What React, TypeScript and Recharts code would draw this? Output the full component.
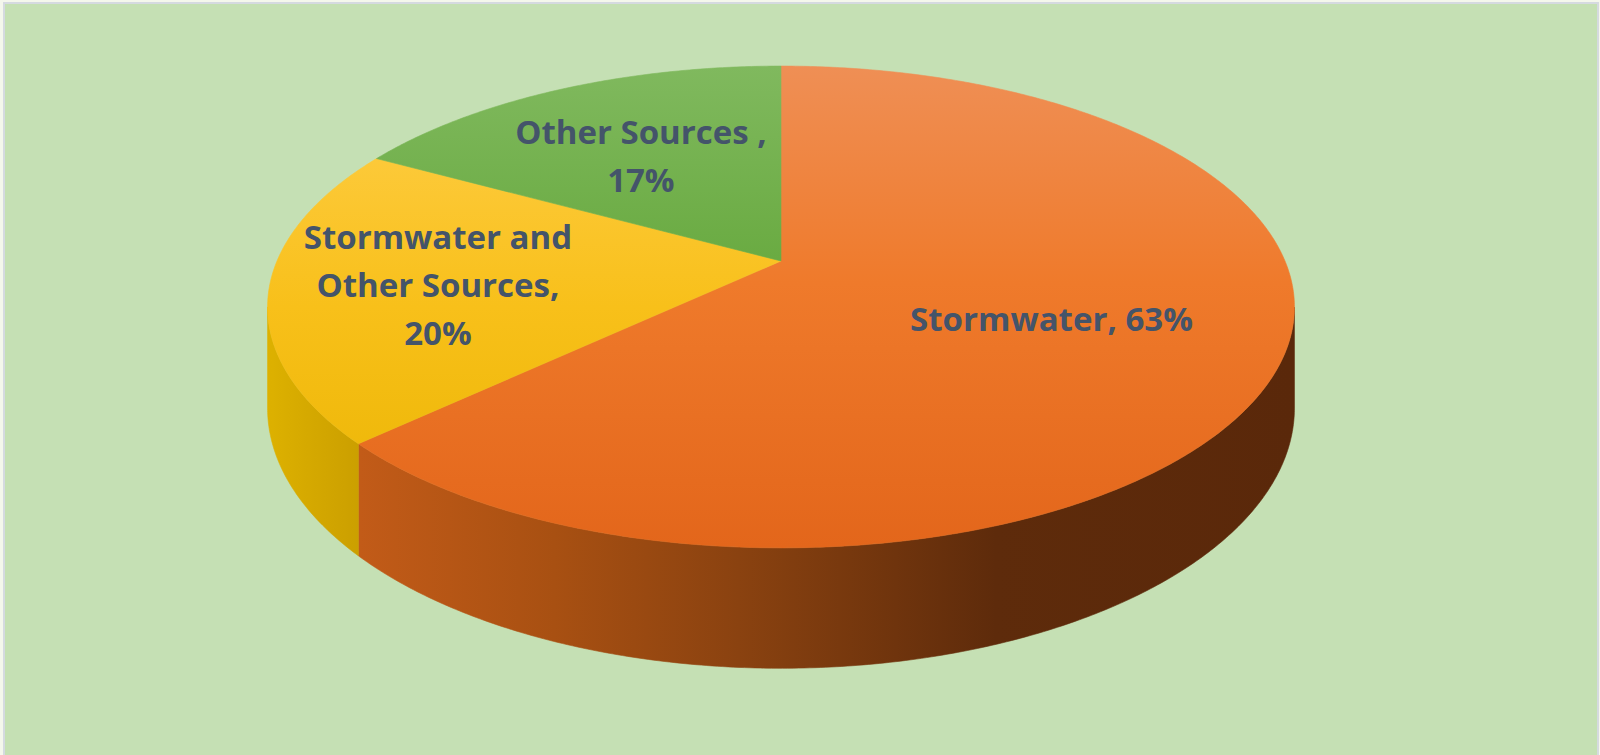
import { PieChart, Pie, Cell } from 'recharts'

const categories = ['Stormwater', 'Stormwater and\nOther Sources', 'Other Sources ']
const shares = [63, 20, 17]
const percentOnOwnLine = [false, true, true]

const chartData = categories.map((name, i) => ({ name, value: shares[i] }))

// look of the tilted disc
const TILT = 0.4606 // vertical radius / horizontal radius
const PERSP = 0.1908 // how much nearer edge is enlarged
const DEPTH = 0.1933 // thickness / horizontal radius
const labelRadius = [0.56, 0.675, 0.6]
const FONT_SIZE = 33
const LINE_H = 48

const topFills = ['url(#top0)', 'url(#top1)', 'url(#top2)']
const sideFills = ['url(#side0)', 'url(#side1)', 'url(#side2)']

// theta: degrees clockwise from 12 o'clock
function project(cx: number, cy: number, rx: number, theta: number, r = 1) {
  const t = (theta * Math.PI) / 180
  const X = r * Math.sin(t)
  const Z = -r * Math.cos(t)
  const w = 1 - PERSP * Z
  return { x: cx + (rx * X) / w, y: cy + (rx * TILT * Z) / w, w }
}

function arcPoints(cx: number, cy: number, rx: number, a: number, b: number, drop = false) {
  const pts: string[] = []
  const n = Math.max(2, Math.ceil(Math.abs(b - a) / 0.5))
  for (let j = 0; j <= n; j++) {
    const th = a + ((b - a) * j) / n
    const p = project(cx, cy, rx, th)
    const y = drop ? p.y + (rx * DEPTH) / p.w : p.y
    pts.push(`${p.x.toFixed(2)},${y.toFixed(2)}`)
  }
  return pts
}

function Slice3D(props: any) {
  const { cx, cy, outerRadius, startAngle, endAngle, name } = props
  const i = categories.indexOf(name)
  const a = 90 - startAngle
  const b = 90 - endAngle
  // visible part of the outer wall
  const edge = (Math.acos(-PERSP) * 180) / Math.PI
  const s0 = Math.max(a, edge)
  const s1 = Math.min(b, 360 - edge)
  const top = `M${cx},${cy} L${arcPoints(cx, cy, outerRadius, a, b).join(' L')} Z`
  let side = ''
  if (s1 > s0) {
    const upper = arcPoints(cx, cy, outerRadius, s0, s1)
    const lower = arcPoints(cx, cy, outerRadius, s1, s0, true)
    side = `M${upper.join(' L')} L${lower.join(' L')} Z`
  }
  return (
    <g>
      {side && <path d={side} fill={sideFills[i]} stroke={sideFills[i]} strokeWidth={0.6} />}
      <path d={top} fill={topFills[i]} stroke={topFills[i]} strokeWidth={0.6} />
    </g>
  )
}

function renderLabel(p: any) {
  const i = p.index ?? categories.indexOf(p.name)
  const { x, y } = project(p.cx, p.cy, p.outerRadius, 90 - p.midAngle, labelRadius[i])
  const nameLines = (categories[i] + ',').split('\n')
  const lines = percentOnOwnLine[i]
    ? [...nameLines, `${shares[i]}%`]
    : [...nameLines.slice(0, -1), `${nameLines[nameLines.length - 1]} ${shares[i]}%`]
  const first = y - ((lines.length - 1) * LINE_H) / 2 + FONT_SIZE * 0.48
  return (
    <text
      x={x}
      y={first}
      textAnchor="middle"
      fill="#44546a"
      fontFamily="'Open Sans', 'Noto Sans', sans-serif"
      fontWeight={700}
      fontSize={FONT_SIZE}
    >
      {lines.map((l, j) => (
        <tspan key={j} x={x} dy={j === 0 ? 0 : LINE_H}>
          {l}
        </tspan>
      ))}
    </text>
  )
}

export default function App() {
  return (
    <div style={{ position: 'relative', width: 1600, height: 755, overflow: 'hidden', background: '#f4f7ec' }}>
      <style>{'body{margin:0}'}</style>
      <div
        style={{
          position: 'absolute',
          left: 3,
          top: 2,
          width: 1592,
          height: 770,
          border: '2px solid #d5dae0',
          background: '#c5e0b4',
        }}
      />
      <PieChart
        width={1600}
        height={755}
        margin={{ top: 0, right: 0, bottom: 0, left: 0 }}
        style={{ position: 'absolute', left: 0, top: 0 }}
      >
        <defs>
          <linearGradient id="top0" gradientUnits="userSpaceOnUse" x1="0" y1="66" x2="0" y2="548">
            <stop offset="0" stopColor="#ef8f55" />
            <stop offset="0.45" stopColor="#ef7a2b" />
            <stop offset="1" stopColor="#e3661b" />
          </linearGradient>
          <linearGradient id="top1" gradientUnits="userSpaceOnUse" x1="0" y1="66" x2="0" y2="548">
            <stop offset="0" stopColor="#ffcf4c" />
            <stop offset="0.5" stopColor="#f8c01a" />
            <stop offset="1" stopColor="#e9b400" />
          </linearGradient>
          <linearGradient id="top2" gradientUnits="userSpaceOnUse" x1="0" y1="66" x2="0" y2="548">
            <stop offset="0" stopColor="#80b95e" />
            <stop offset="0.4" stopColor="#6aab42" />
            <stop offset="1" stopColor="#5da030" />
          </linearGradient>
          <linearGradient id="side0" gradientUnits="userSpaceOnUse" x1="267" y1="0" x2="1294" y2="0">
            <stop offset="0.09" stopColor="#c25b18" />
            <stop offset="0.28" stopColor="#a85012" />
            <stop offset="0.46" stopColor="#8a4210" />
            <stop offset="0.71" stopColor="#5e2b0b" />
            <stop offset="1" stopColor="#5a280a" />
          </linearGradient>
          <linearGradient id="side1" gradientUnits="userSpaceOnUse" x1="267" y1="0" x2="370" y2="0">
            <stop offset="0" stopColor="#ddb100" />
            <stop offset="1" stopColor="#c99d00" />
          </linearGradient>
          <linearGradient id="side2" gradientUnits="userSpaceOnUse" x1="267" y1="0" x2="1294" y2="0">
            <stop offset="0" stopColor="#4f8a2a" />
            <stop offset="1" stopColor="#3b6a1e" />
          </linearGradient>
        </defs>
        <Pie
          data={chartData}
          dataKey="value"
          nameKey="name"
          cx={781}
          cy={261}
          outerRadius={504}
          startAngle={90}
          endAngle={-270}
          shape={Slice3D}
          label={renderLabel}
          labelLine={false}
          isAnimationActive={false}
        >
          {chartData.map((d, i) => (
            <Cell key={d.name} fill={topFills[i]} />
          ))}
        </Pie>
      </PieChart>
    </div>
  )
}
